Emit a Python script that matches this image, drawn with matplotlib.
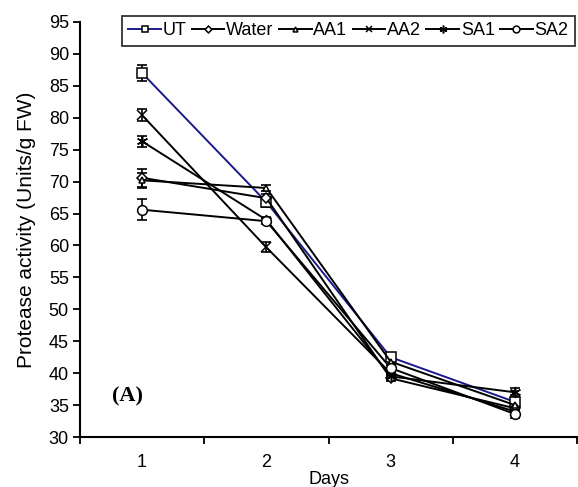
import matplotlib
matplotlib.use("Agg")
import matplotlib.pyplot as plt
import numpy as np

plt.rcParams['font.family'] = ['Liberation Sans', 'DejaVu Sans']

days = ["1", "2", "3", "4"]
series = ["UT", "Water", "AA1", "AA2", "SA1", "SA2"]
UT = [87.0, 66.8, 42.5, 35.5]
Water = [70.6, 67.4, 39.2, 34.5]
AA1 = [70.2, 69.0, 41.8, 35.0]
AA2 = [80.4, 59.7, 40.0, 34.0]
SA1 = [76.3, 64.0, 39.5, 37.0]
SA2 = [65.6, 63.8, 40.8, 33.6]
err_UT = [1.3, 0.8, 0.6, 0.6]
err_Water = [1.4, 0.6, 0.5, 0.6]
err_AA1 = [1.2, 0.5, 0.5, 0.6]
err_AA2 = [0.9, 0.8, 0.5, 0.6]
err_SA1 = [0.8, 0.5, 0.5, 0.6]
err_SA2 = [1.6, 0.5, 0.5, 0.6]

values = [UT, Water, AA1, AA2, SA1, SA2]
errors = [err_UT, err_Water, err_AA1, err_AA2, err_SA1, err_SA2]
markers = ['s', 'D', '^', 'x', (6, 2, 0), 'o']
msizes = [7, 5, 5, 7, 8, 7]
colors = ['#1a1a8c', 'black', 'black', 'black', 'black', 'black']

fig = plt.figure(figsize=(5.78, 4.87), dpi=100)
ax = fig.add_axes([80/578, 1-437/487, 497/578, 415/487])

x = np.arange(1, len(days)+1)
handles = []
for name, v, e, m, ms, c in zip(series, values, errors, markers, msizes, colors):
    ax.errorbar(x, v, yerr=e, fmt='none', ecolor='black', elinewidth=1.2, capsize=3.5, capthick=1.2, zorder=2)
    h, = ax.plot(x, v, color=c, lw=1.4, marker=m, ms=ms, mfc='white', mec='black', mew=1.1, label=name, zorder=3)
    handles.append(h)

ax.set_xlim(0.5, 4.5)
ax.set_ylim(30, 95)
ax.set_yticks(np.arange(30, 96, 5))
ax.set_xticks(x)
ax.set_xticklabels(days)
ax.set_xticks(np.arange(0.5, 4.6, 1), minor=True)
ax.tick_params(axis='x', which='major', length=0, labelsize=13, pad=12)
ax.tick_params(axis='x', which='minor', length=5, width=1.3, direction='out')
ax.tick_params(axis='y', length=5, width=1.3, labelsize=13, direction='out', pad=3)
for s in ['top', 'right']:
    ax.spines[s].set_visible(False)
for s in ['left', 'bottom']:
    ax.spines[s].set_linewidth(1.5)
ax.set_xlabel("Days", fontsize=13, labelpad=0)
ax.set_ylabel("Protease activity (Units/g FW)", fontsize=15, labelpad=9)

ax.text(0.064, 0.085, "(A)", transform=ax.transAxes, fontsize=16, fontweight='bold',
        family=['Liberation Serif', 'DejaVu Serif'])

leg = fig.legend(handles=handles, loc='upper left', bbox_to_anchor=(122/578, 1-16/487),
                 ncol=6, fontsize=13, frameon=True, fancybox=False, edgecolor='black',
                 handlelength=1.8, handletextpad=0.1, columnspacing=0.3,
                 borderpad=0.35, borderaxespad=0, markerscale=0.7)
leg.get_frame().set_linewidth(1.3)

fig.savefig("out.png", dpi=100)
